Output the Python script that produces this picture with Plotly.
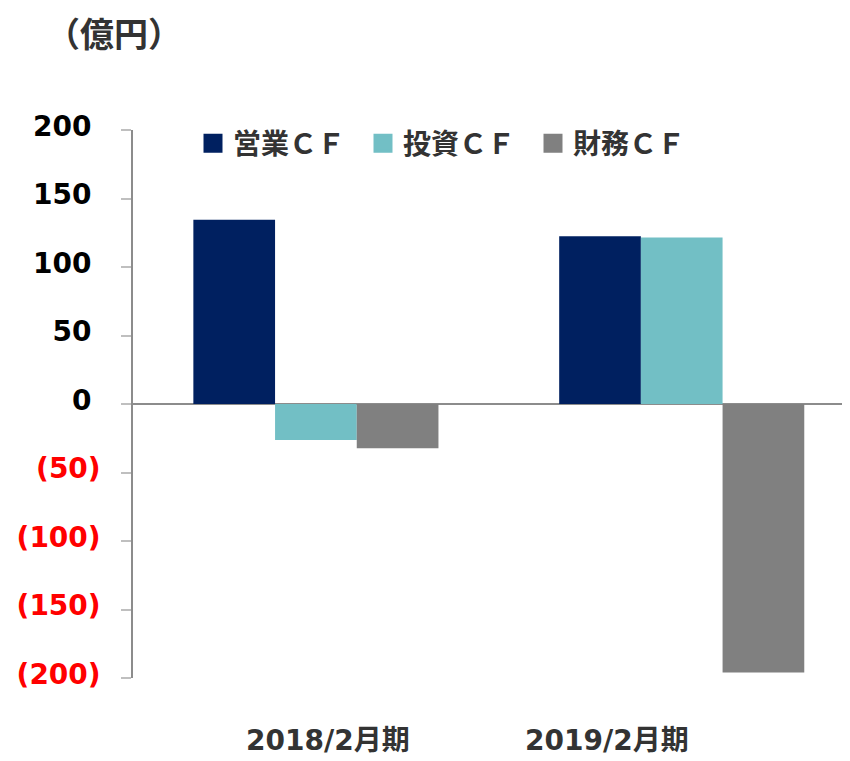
import plotly.graph_objects as go

categories = ["2018/2月期", "2019/2月期"]
series_names = ["営業ＣＦ", "投資ＣＦ", "財務ＣＦ"]
operating_cf = [134.5, 122.5]
investing_cf = [-26.3, 121.5]
financing_cf = [-32.3, -196.0]
y_tick_values = [200, 150, 100, 50, 0, -50, -100, -150, -200]
y_tick_labels = ["200", "150", "100", "50", "0", "(50)", "(100)", "(150)", "(200)"]
unit_label = "（億円）"

colors = ["#002060", "#72BFC5", "#808080"]
series_values = [operating_cf, investing_cf, financing_cf]

# page body has an 8px margin; work in reference pixel coords and shift
OFF = 8
W, H = 850 - OFF, 761 - OFF
L = 133 - OFF
T = 130 - OFF
R = 0
B = H - (678 - OFF)
pw, ph = W - L - R, H - T - B

def px_x(px):
    return (px - OFF - L) / pw

def px_y(py):
    return (H - B - (py - OFF)) / ph

fig = go.Figure()
for name, vals, col in zip(series_names, series_values, colors):
    fig.add_trace(go.Bar(x=categories, y=vals, name=name, showlegend=False,
                         marker=dict(color=col, line=dict(width=0))))
# legend-only entries with larger square symbols
for name, col in zip(series_names, colors):
    fig.add_trace(go.Scatter(x=[None], y=[None], name=name, mode="markers",
                             marker=dict(symbol="square", size=16, color=col,
                                         line=dict(color=col, width=3))))

ticktext = []
for v, t in zip(y_tick_values, y_tick_labels):
    if v < 0:
        ticktext.append(f"<span style='color:#FF0000'>{t}</span>")
    else:
        ticktext.append(t + "\u2004")

cjk = "Noto Sans CJK JP"
fig.update_layout(
    width=W, height=H,
    margin=dict(l=L, r=R, t=T, b=B),
    plot_bgcolor="white", paper_bgcolor="white",
    barmode="group", bargap=0.33, bargroupgap=0,
    showlegend=True,
    legend=dict(orientation="h", x=px_x(193), y=px_y(143.5), xanchor="left", yanchor="middle",
                font=dict(family=cjk, size=28, color="#333333", weight="bold"),
                bgcolor="rgba(0,0,0,0)", entrywidth=125, entrywidthmode="pixels",
                itemsizing="trace"),
    xaxis=dict(range=[-0.5, 1.46], showticklabels=False, showline=False, showgrid=False,
               zeroline=False, ticks=""),
    yaxis=dict(range=[-200, 200], tickvals=y_tick_values, ticktext=ticktext,
               tickfont=dict(family="DejaVu Sans", size=28, color="#000000", weight="bold"),
               showgrid=False, showline=True, linecolor="#8C8C8C", linewidth=1.5,
               ticks="outside", ticklen=10, tickcolor="#BFBFBF", tickwidth=1.5,
               ticklabelstandoff=15, ticklabelshift=-4,
               zeroline=True, zerolinecolor="#8C8C8C", zerolinewidth=1.5),
)

label_px = [327.5, 606.7]
for cat, lx in zip(categories, label_px):
    fig.add_annotation(text=cat, xref="paper", yref="paper", x=px_x(lx), y=px_y(740),
                       xanchor="center", yanchor="middle", showarrow=False,
                       font=dict(family="DejaVu Sans, " + cjk, size=28, color="#333333", weight="bold"))

fig.add_annotation(text=unit_label, xref="paper", yref="paper", x=px_x(114), y=px_y(33),
                   xanchor="center", yanchor="middle", showarrow=False,
                   font=dict(family=cjk, size=34, color="#333333", weight="bold"))

fig.write_html("out.html")
